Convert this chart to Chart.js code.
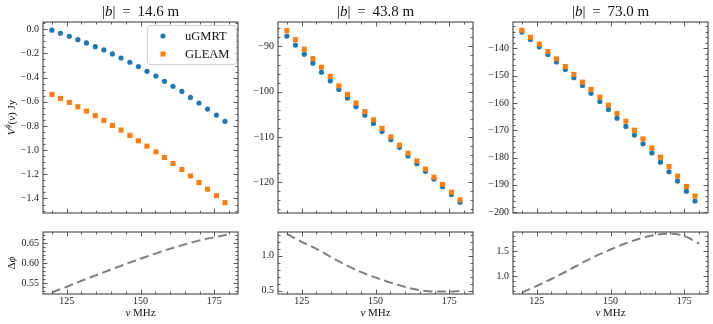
<!DOCTYPE html>
<html lang="en">
<head>
<meta charset="UTF-8">
<title>Visibility comparison</title>
<script src="https://cdn.jsdelivr.net/npm/chart.js@4.4.1/dist/chart.umd.min.js"></script>
<style>
  body { margin: 0; background: #fff; }
  #wrap { position: relative; width: 713px; height: 324px; overflow: hidden; }
  #wrap canvas { position: absolute; }
</style>
</head>
<body>
<div id="wrap"></div>
<script>
// point frequencies (MHz) and the frequencies of the phase curves
const freqs = [120.0, 122.9, 125.9, 128.8, 131.7, 134.7, 137.6, 140.5, 143.4, 146.4, 149.3,
               152.2, 155.2, 158.1, 161.0, 164.0, 166.9, 169.8, 172.7, 175.7, 178.6];
const curveFreqs = [120, 125, 130, 135, 140, 145, 150, 155, 160, 165, 170, 175, 180];

const baselines = ['14.6', '43.8', '73.0'];
const seriesNames = ['uGMRT', 'GLEAM'];

// |b| = 14.6 m
const ugmrt146 = [-0.008, -0.033, -0.058, -0.086, -0.113, -0.144, -0.171, -0.204, -0.238, -0.273, -0.309,
                  -0.348, -0.387, -0.431, -0.472, -0.514, -0.564, -0.610, -0.660, -0.710, -0.762];
const gleam146 = [-0.539, -0.572, -0.605, -0.641, -0.677, -0.715, -0.754, -0.796, -0.834, -0.878, -0.923,
                  -0.967, -1.014, -1.061, -1.110, -1.160, -1.213, -1.268, -1.323, -1.376, -1.434];
// |b| = 43.8 m
const ugmrt438 = [-87.7, -89.7, -91.7, -93.7, -95.7, -97.6, -99.5, -101.4, -103.3, -105.2, -107.0,
                  -108.8, -110.6, -112.3, -114.2, -115.9, -117.6, -119.3, -121.0, -122.7, -124.4];
const gleam438 = [-86.5, -88.5, -90.6, -92.7, -94.6, -96.6, -98.7, -100.6, -102.5, -104.4, -106.2,
                  -108.1, -110.0, -111.8, -113.6, -115.3, -117.1, -118.9, -120.5, -122.2, -123.9];
// |b| = 73.0 m
const ugmrt730 = [-134.1, -136.8, -139.5, -142.3, -145.0, -147.8, -150.8, -153.6, -156.5, -159.5, -162.4,
                  -165.6, -168.6, -171.8, -175.0, -178.3, -181.7, -185.2, -188.6, -192.3, -195.9];
const gleam730 = [-133.4, -136.0, -138.5, -141.2, -143.9, -146.7, -149.6, -152.4, -155.1, -157.9, -160.8,
                  -163.9, -166.7, -170.0, -173.2, -176.5, -179.9, -183.3, -186.8, -190.6, -194.1];

// phase difference curves
const dphi146 = [0.527, 0.541, 0.556, 0.570, 0.584, 0.598, 0.611, 0.624, 0.636, 0.647, 0.657, 0.665, 0.672];
const dphi438 = [1.31, 1.20, 1.10, 0.98, 0.87, 0.77, 0.69, 0.62, 0.555, 0.51, 0.49, 0.49, 0.505];
const dphi730 = [0.67, 0.80, 0.94, 1.09, 1.25, 1.40, 1.53, 1.65, 1.75, 1.82, 1.845, 1.80, 1.65];

// ticks: major step, minor step, decimals
const xMajor = 25, xMinor = 5;
const topTicks = [[0.2, 0.05, 1], [10, 2, 0], [10, 2, 0]];
const bottomTicks = [[0.05, 0.01, 2], [0.5, 0.1, 1], [0.5, 0.1, 1]];

const ugmrtSets = [ugmrt146, ugmrt438, ugmrt730];
const gleamSets = [gleam146, gleam438, gleam730];
const dphiSets = [dphi146, dphi438, dphi730];

// axis limits (kept off whole multiples of the minor step so ticks stay on round values)
const topRanges = [[-1.52, 0.06], [-126.8, -84.6], [-200.3, -130.4]];
const bottomRanges = [[0.523, 0.678], [0.455, 1.34], [0.64, 1.88]];

const BLUE = '#1f77b4', ORANGE = '#ff7f0e';
const SERIF = "'Liberation Serif', 'DejaVu Serif', serif";

Chart.defaults.font.family = SERIF;
Chart.defaults.color = '#222';

const wrap = document.getElementById('wrap');
const plotLeft = [43, 278, 513];
const plotW = 195;
const yAxisW = 43;

function makeCanvas(x, y, w, h) {
    const c = document.createElement('canvas');
    c.width = w; c.height = h;
    c.style.left = x + 'px'; c.style.top = y + 'px';
    c.style.width = w + 'px'; c.style.height = h + 'px';
    wrap.appendChild(c);
    return c;
}

function isMajor(v, step) {
    const r = v / step;
    return Math.abs(r - Math.round(r)) < 1e-6;
}

function fmt(v, dec) {
    if (Math.abs(v) < 1e-9) v = 0;
    return v.toFixed(dec).replace('-', '\u2212');
}

// draws text pieces centred on (cx, cy), optionally rotated
function drawPieces(ctx, pieces, cx, cy, rot) {
    ctx.save();
    ctx.translate(cx, cy);
    if (rot) ctx.rotate(rot);
    ctx.textBaseline = 'middle';
    ctx.textAlign = 'left';
    let total = 0;
    pieces.forEach(p => { ctx.font = p.f; p.w = ctx.measureText(p.t).width; total += p.w; });
    let x = -total / 2;
    pieces.forEach(p => {
        ctx.font = p.f;
        ctx.fillStyle = '#111';
        ctx.fillText(p.t, x, p.dy || 0);
        x += p.w;
    });
    ctx.restore();
}

// inward ticks on all four sides and the axes box
const framePlugin = {
    id: 'frame',
    afterDraw(chart, args, opts) {
        const {ctx, chartArea: a} = chart;
        const xs = chart.scales.x, ys = chart.scales.y;
        ctx.save();
        ctx.strokeStyle = '#333';
        ctx.lineWidth = 0.8;
        ctx.beginPath();
        xs.ticks.forEach(t => {
            const px = Math.round(xs.getPixelForValue(t.value)) + 0.5;
            const len = isMajor(t.value, opts.xMajor) ? 4.5 : 2.5;
            ctx.moveTo(px, a.bottom); ctx.lineTo(px, a.bottom - len);
            ctx.moveTo(px, a.top); ctx.lineTo(px, a.top + len);
        });
        ys.ticks.forEach(t => {
            const py = Math.round(ys.getPixelForValue(t.value)) + 0.5;
            const len = isMajor(t.value, opts.yMajor) ? 4.5 : 2.5;
            ctx.moveTo(a.left, py); ctx.lineTo(a.left + len, py);
            ctx.moveTo(a.right, py); ctx.lineTo(a.right - len, py);
        });
        ctx.stroke();
        ctx.strokeStyle = '#444';
        ctx.lineWidth = 1.1;
        ctx.strokeRect(a.left, a.top, a.right - a.left, a.bottom - a.top);
        ctx.restore();
    }
};

// titles, axis labels and the legend
const textPlugin = {
    id: 'texts',
    afterDraw(chart, args, opts) {
        const {ctx, chartArea: a} = chart;
        const cx = (a.left + a.right) / 2;
        if (opts.title) {
            drawPieces(ctx, [
                {t: '|', f: '15px ' + SERIF},
                {t: 'b', f: 'italic 15px ' + SERIF},
                {t: '|\u2009 = \u2009' + opts.title + ' m', f: '15px ' + SERIF}
            ], cx, a.top - 10);
        }
        if (opts.xlabel) {
            drawPieces(ctx, [
                {t: '\u03bd', f: 'italic 11px ' + SERIF},
                {t: ' MHz', f: '11px ' + SERIF}
            ], cx, a.bottom + 19);
        }
        if (opts.ylabel === 'V') {
            drawPieces(ctx, [
                {t: 'V', f: 'italic 11px ' + SERIF},
                {t: '\u03d5', f: 'italic 8px ' + SERIF, dy: -4},
                {t: '(', f: '11px ' + SERIF},
                {t: '\u03bd', f: 'italic 11px ' + SERIF},
                {t: ') Jy', f: '11px ' + SERIF}
            ], 12, (a.top + a.bottom) / 2, -Math.PI / 2);
        }
        if (opts.ylabel === 'dphi') {
            drawPieces(ctx, [
                {t: '\u0394', f: '11px ' + SERIF},
                {t: '\u03d5', f: 'italic 11px ' + SERIF}
            ], 12, (a.top + a.bottom) / 2, -Math.PI / 2);
        }
        if (opts.legend) {
            const bx = a.right - 91, by = a.top + 3, bw = 89, bh = 39;
            ctx.save();
            ctx.fillStyle = 'rgba(255,255,255,0.85)';
            ctx.strokeStyle = '#d0d0d0';
            ctx.lineWidth = 1;
            ctx.beginPath();
            ctx.roundRect(bx + 0.5, by + 0.5, bw, bh, 3);
            ctx.fill();
            ctx.stroke();
            const ds = chart.data.datasets;
            ds.forEach((d, i) => {
                const my = by + 11 + i * 18;
                ctx.fillStyle = d.backgroundColor;
                if (d.pointStyle === 'rect') {
                    ctx.fillRect(bx + 13.5, my - 2.5, 5, 5);
                } else {
                    ctx.beginPath();
                    ctx.arc(bx + 16, my, 2.6, 0, Math.PI * 2);
                    ctx.fill();
                }
                ctx.fillStyle = '#111';
                ctx.font = '12.5px ' + SERIF;
                ctx.textBaseline = 'middle';
                ctx.fillText(d.label, bx + 38, my + 0.5);
            });
            ctx.restore();
        }
    }
};

function yScale(range, ticks, width) {
    return {
        type: 'linear',
        min: range[0], max: range[1],
        grid: {display: false, drawTicks: false, tickLength: 0},
        border: {display: false},
        ticks: {
            stepSize: ticks[1],
            includeBounds: false,
            autoSkip: false,
            padding: 4,
            font: {size: 10},
            callback: v => isMajor(v, ticks[0]) ? fmt(v, ticks[2]) : ''
        },
        afterFit: s => { s.width = width; }
    };
}

function xScale(showLabels, height) {
    return {
        type: 'linear',
        min: 117, max: 183,
        grid: {display: false, drawTicks: false, tickLength: 0},
        border: {display: false},
        ticks: {
            display: showLabels,
            stepSize: xMinor,
            includeBounds: false,
            autoSkip: false,
            maxRotation: 0,
            padding: 1,
            font: {size: 10},
            callback: v => isMajor(v, xMajor) ? String(v) : ''
        },
        afterFit: s => { s.height = height; }
    };
}

for (let i = 0; i < 3; i++) {
    // top panel: visibilities
    const topCanvas = makeCanvas(plotLeft[i] - yAxisW, 0, yAxisW + plotW + 5, 223);
    new Chart(topCanvas, {
        type: 'scatter',
        data: {
            datasets: [
                {
                    label: seriesNames[0],
                    data: freqs.map((f, k) => ({x: f, y: ugmrtSets[i][k]})),
                    pointStyle: 'circle', pointRadius: 2.6, borderWidth: 0,
                    backgroundColor: BLUE, borderColor: BLUE, order: 1
                },
                {
                    label: seriesNames[1],
                    data: freqs.map((f, k) => ({x: f, y: gleamSets[i][k]})),
                    pointStyle: 'rect', pointRadius: 3.6, borderWidth: 0,
                    backgroundColor: ORANGE, borderColor: ORANGE, order: 0
                }
            ]
        },
        options: {
            responsive: false,
            animation: false,
            devicePixelRatio: 1,
            events: [],
            layout: {padding: {top: 22, right: 5, bottom: 10, left: 0}},
            plugins: {
                legend: {display: false},
                tooltip: {enabled: false},
                frame: {xMajor: xMajor, yMajor: topTicks[i][0]},
                texts: {title: baselines[i], ylabel: i === 0 ? 'V' : null, legend: i === 0}
            },
            scales: {
                x: xScale(false, 0),
                y: yScale(topRanges[i], topTicks[i], yAxisW)
            }
        },
        plugins: [framePlugin, textPlugin]
    });

    // bottom panel: phase difference
    const botCanvas = makeCanvas(plotLeft[i] - yAxisW, 222, yAxisW + plotW + 5, 102);
    new Chart(botCanvas, {
        type: 'line',
        data: {
            datasets: [{
                label: '\u0394\u03d5',
                data: curveFreqs.map((f, k) => ({x: f, y: dphiSets[i][k]})),
                borderColor: 'rgba(128,128,128,1)',
                borderWidth: 2,
                borderDash: [9, 4.5],
                pointRadius: 0,
                fill: false,
                cubicInterpolationMode: 'monotone'
            }]
        },
        options: {
            responsive: false,
            animation: false,
            devicePixelRatio: 1,
            events: [],
            layout: {padding: {top: 9, right: 5, bottom: 0, left: 0}},
            plugins: {
                legend: {display: false},
                tooltip: {enabled: false},
                frame: {xMajor: xMajor, yMajor: bottomTicks[i][0]},
                texts: {xlabel: true, ylabel: i === 0 ? 'dphi' : null}
            },
            scales: {
                x: xScale(true, 30),
                y: yScale(bottomRanges[i], bottomTicks[i], yAxisW)
            }
        },
        plugins: [framePlugin, textPlugin]
    });
}
</script>
</body>
</html>
